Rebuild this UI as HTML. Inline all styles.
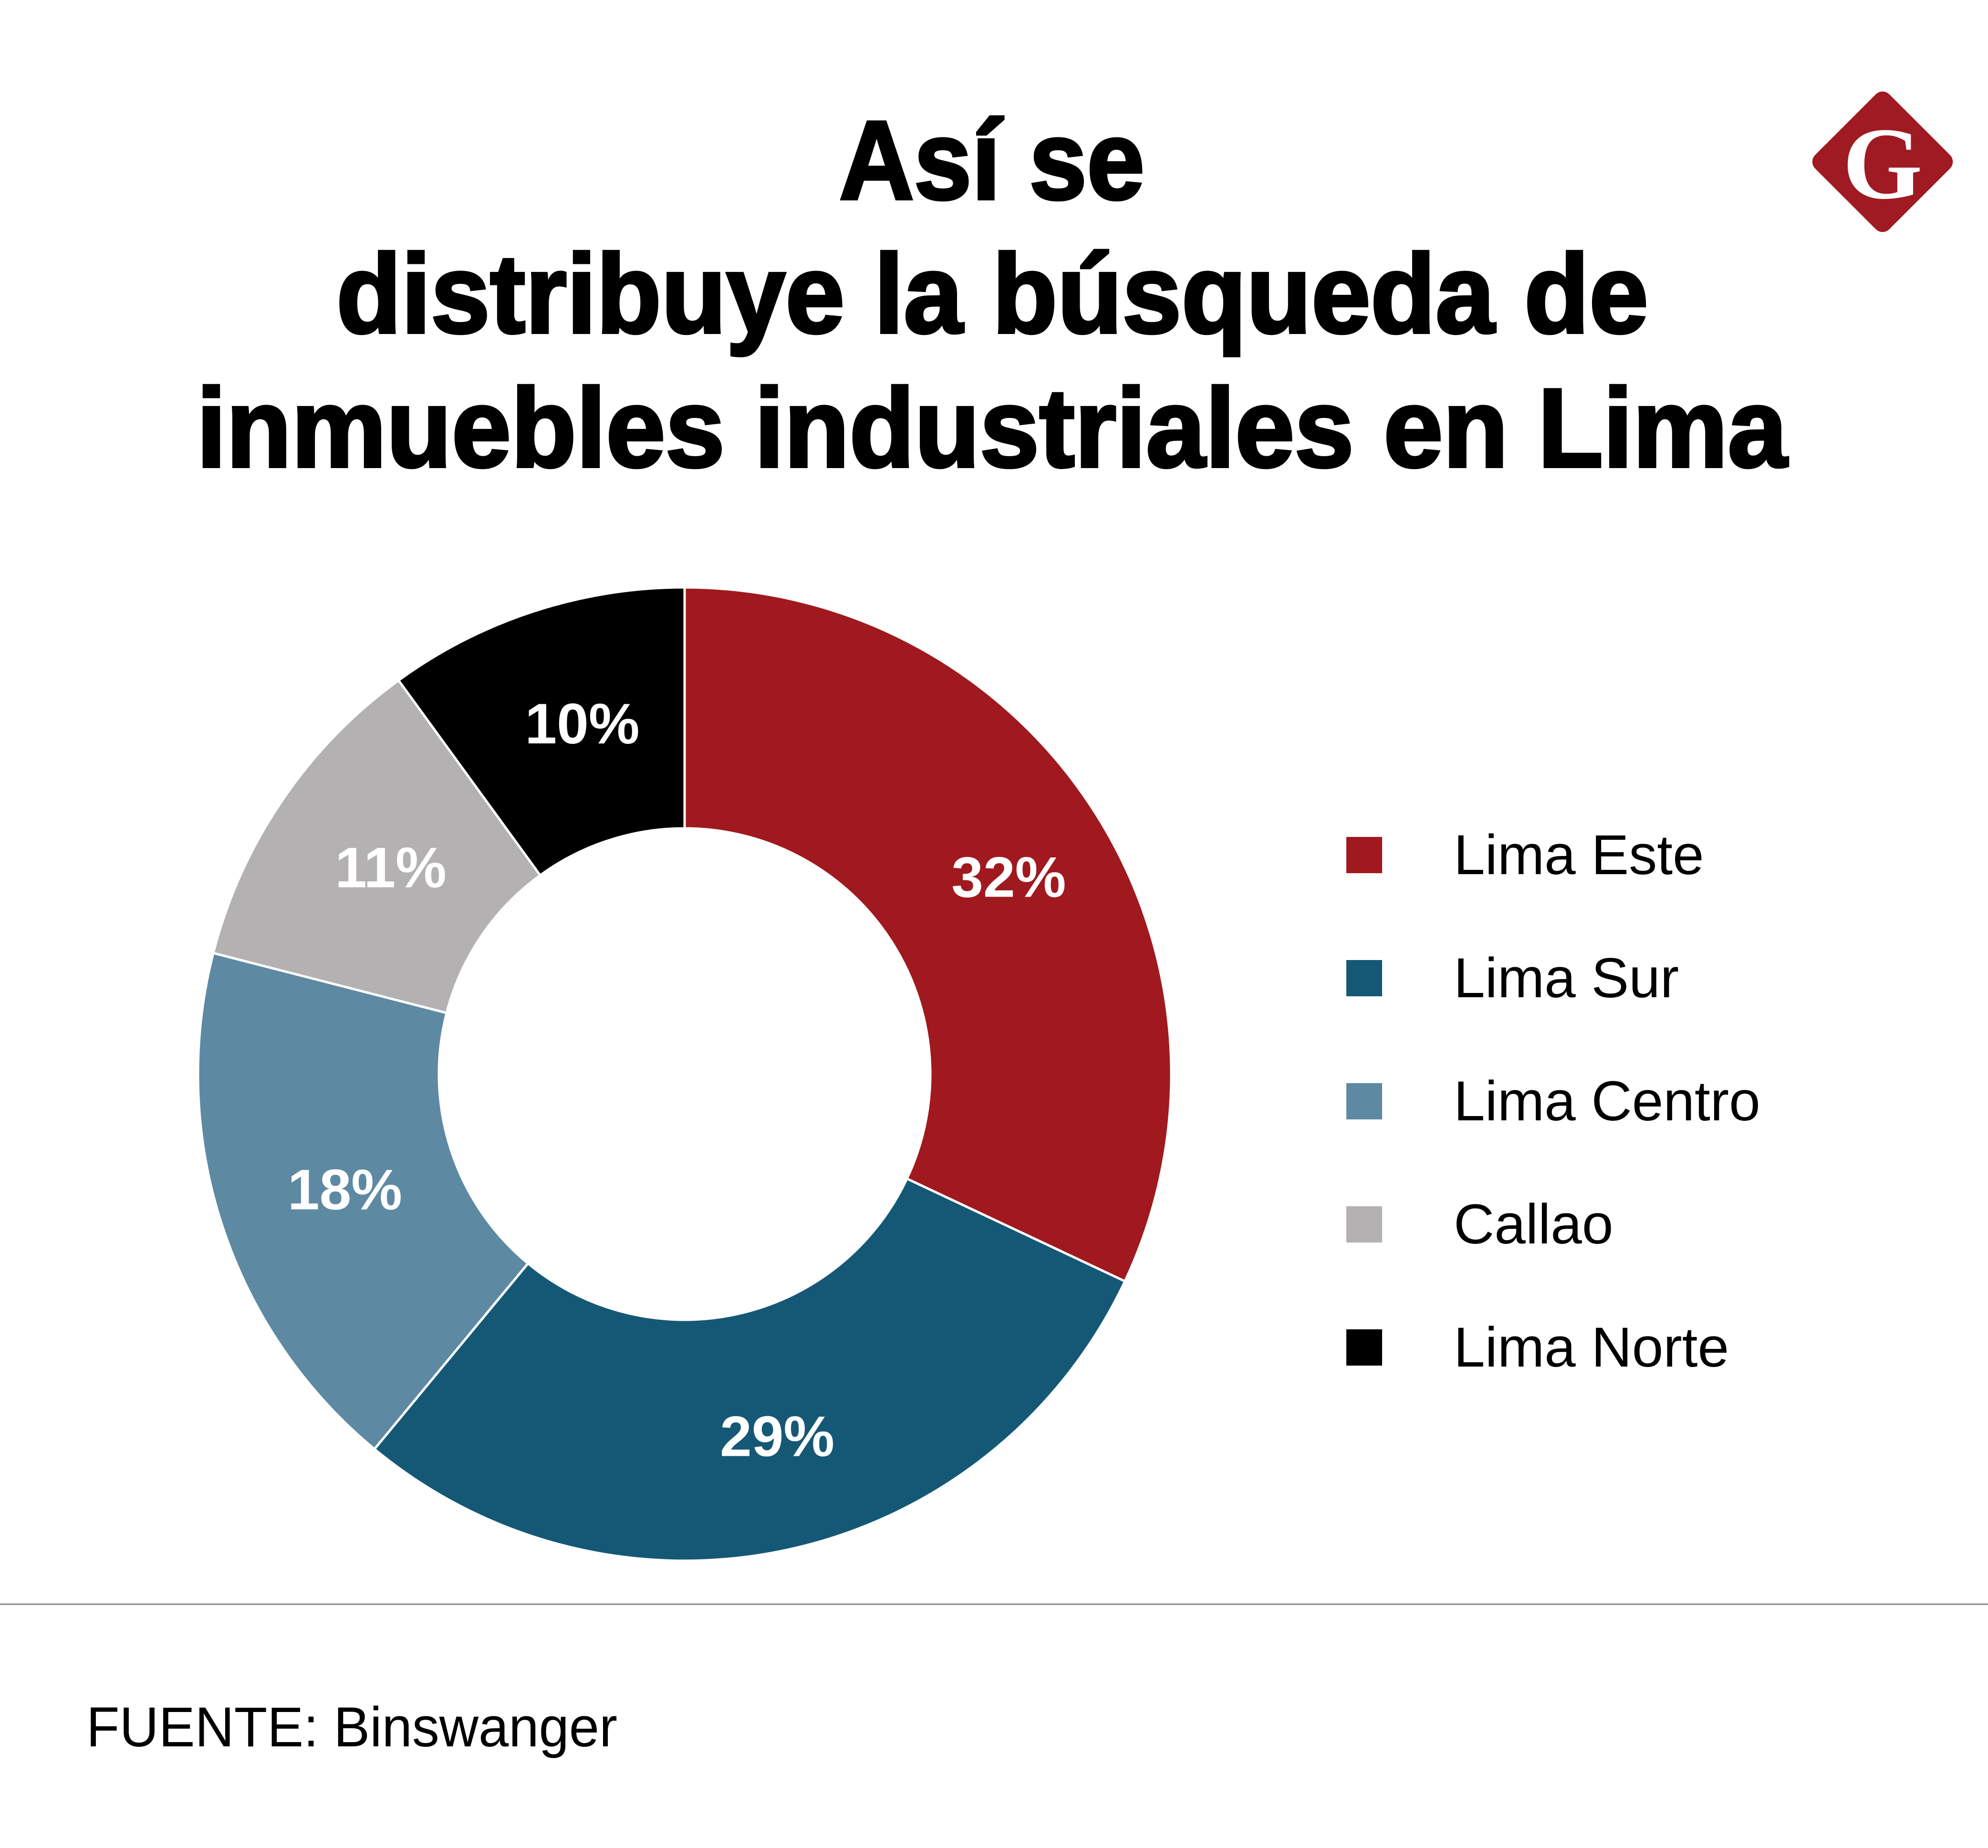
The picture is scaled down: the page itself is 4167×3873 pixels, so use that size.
<!DOCTYPE html>
<html><head><meta charset="utf-8"><style>
html,body{margin:0;padding:0;background:#fff;}
svg{display:block;}
</style></head><body>
<svg id="chart" width="4167" height="3873" viewBox="0 0 4167 3873" xmlns="http://www.w3.org/2000/svg">
<rect width="4167" height="3873" fill="#fff"/>
<g font-family="'Liberation Sans', sans-serif" font-weight="bold" fill="#000" stroke="#000" stroke-width="6" text-anchor="start">
<text x="1759" y="417" font-size="235" textLength="640" lengthAdjust="spacingAndGlyphs">Así se</text>
<text x="705" y="697" font-size="235" textLength="2750" lengthAdjust="spacingAndGlyphs">distribuye la búsqueda de</text>
<text x="412" y="978" font-size="235" textLength="3334" lengthAdjust="spacingAndGlyphs">inmuebles industriales en Lima</text>
</g>
<g>
<rect x="3836" y="229" width="220" height="220" rx="20" fill="#9f1a22" transform="rotate(45 3946 339)"/>
<text x="3946" y="415" font-family="'Liberation Serif', serif" font-weight="bold" font-size="215" fill="#fff" text-anchor="middle">G</text>
</g>
<g id="slices"></g>
<g id="labels" font-family="'Liberation Sans', sans-serif" font-weight="bold" font-size="120" fill="#fff" text-anchor="middle"></g>
<g id="legend" font-family="'Liberation Sans', sans-serif" font-size="118" fill="#000"></g>
<line x1="0" y1="3362" x2="4167" y2="3362" stroke="#888" stroke-width="3"/>
<text x="181" y="3660" font-family="'Liberation Sans', sans-serif" font-size="118" fill="#000" textLength="1113" lengthAdjust="spacingAndGlyphs">FUENTE: Binswanger</text>
</svg>
<script>
const categories = ["Lima Este", "Lima Sur", "Lima Centro", "Callao", "Lima Norte"];
const values = [32, 29, 18, 11, 10];
const labels = ["32%", "29%", "18%", "11%", "10%"];
const colors = ["#a0191e", "#155876", "#5e89a2", "#b3b1b1", "#000000"];

const NS = "http://www.w3.org/2000/svg";
const cx = 1435, cy = 2251, R = 1020, r = 515, LR = 775;
const total = values.reduce((a, b) => a + b, 0);
function pt(a, rad) { return [cx + rad * Math.sin(a), cy - rad * Math.cos(a)]; }
const gS = document.getElementById("slices");
const gL = document.getElementById("labels");
const gG = document.getElementById("legend");
let acc = 0;
values.forEach((v, i) => {
  const a0 = acc / total * 2 * Math.PI;
  acc += v;
  const a1 = acc / total * 2 * Math.PI;
  const large = (a1 - a0) > Math.PI ? 1 : 0;
  const [x0, y0] = pt(a0, R), [x1, y1] = pt(a1, R), [x2, y2] = pt(a1, r), [x3, y3] = pt(a0, r);
  const p = document.createElementNS(NS, "path");
  p.setAttribute("d", `M${x0},${y0} A${R},${R} 0 ${large} 1 ${x1},${y1} L${x2},${y2} A${r},${r} 0 ${large} 0 ${x3},${y3} Z`);
  p.setAttribute("fill", colors[i]);
  p.setAttribute("stroke", "#fff");
  p.setAttribute("stroke-width", "5");
  
  
  gS.appendChild(p);
  const am = (a0 + a1) / 2;
  const [lx, ly] = pt(am, LR);
  const t = document.createElementNS(NS, "text");
  t.setAttribute("x", lx + 25);
  t.setAttribute("y", ly + 44);
  t.textContent = labels[i];
  
  
  gL.appendChild(t);
  const y = 1792 + i * 258;
  const sq = document.createElementNS(NS, "rect");
  sq.setAttribute("x", 2822); sq.setAttribute("y", y - 38);
  sq.setAttribute("width", 75); sq.setAttribute("height", 76);
  sq.setAttribute("fill", colors[i]);
  
  
  gG.appendChild(sq);
  const lt = document.createElementNS(NS, "text");
  lt.setAttribute("x", 3047); lt.setAttribute("y", y + 40);
  lt.textContent = categories[i];
  
  
  gG.appendChild(lt);
});
</script>
</body></html>
